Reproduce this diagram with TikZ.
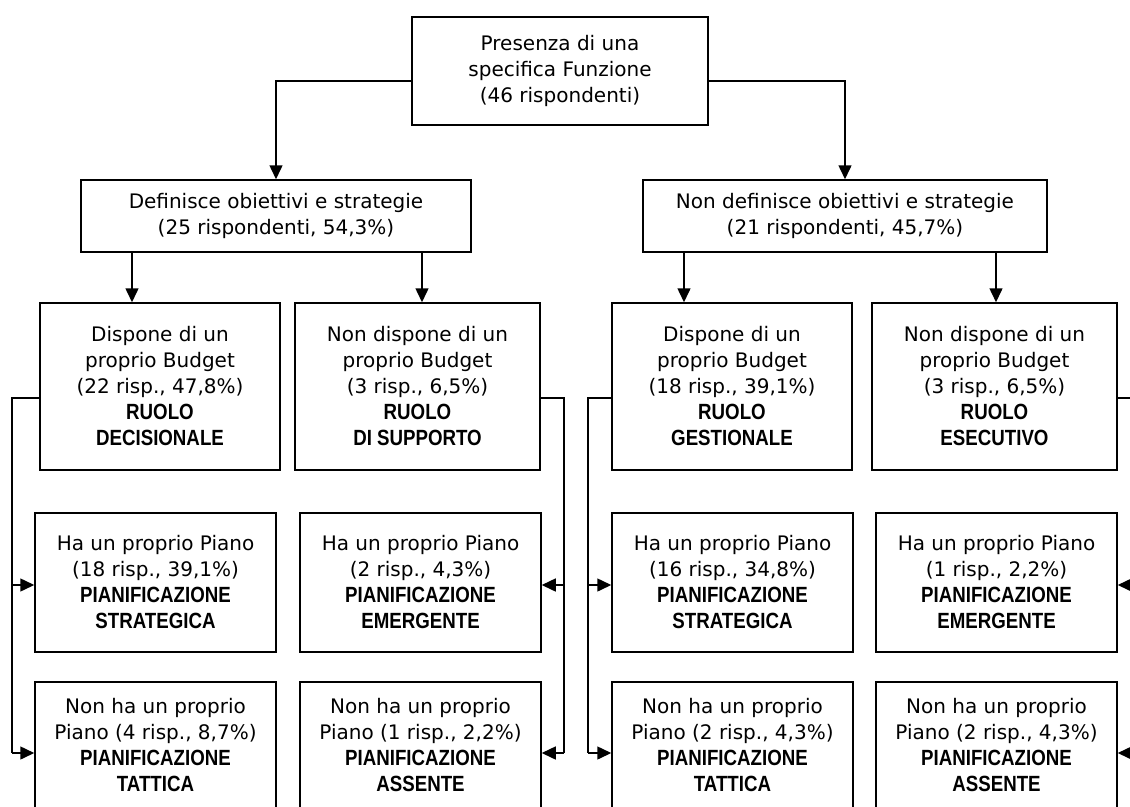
\documentclass[tikz,border=0pt]{standalone}
\usepackage{fontspec}
\setmainfont{DejaVu Sans}
\newfontfamily\capfont[FakeStretch=0.85]{Liberation Sans}
\usetikzlibrary{arrows.meta}
\newcommand{\bc}[1]{{\capfont\bfseries\fontsize{22}{26.5}\selectfont #1}}
\begin{document}
\begin{tikzpicture}[x=1pt,y=-1pt,
  font=\fontsize{20}{26}\selectfont,
  box/.style={draw, line width=1.5pt, align=center, inner sep=0pt},
  lvthree/.style={box, minimum width=#1, minimum height=167pt},
  lvfour/.style={box, minimum width=241pt, minimum height=139pt},
  lvfive/.style={box, minimum width=241pt, minimum height=126pt},
  ln/.style={line width=1.5pt},
  arr/.style={line width=1.5pt, -{Triangle[length=14pt,width=13pt]}}]
\useasboundingbox (0,0) rectangle (1130,806);
\clip (0,0) rectangle (1130,806);

\node[box, minimum width=296pt, minimum height=108pt] (top) at (560,71)
  {Presenza di una\\specifica Funzione\\(46 rispondenti)};
\node[box, minimum width=390pt, minimum height=72pt] (def) at (276,216)
  {Definisce obiettivi e strategie\\(25 rispondenti, 54,3\%)};
\node[box, minimum width=404pt, minimum height=72pt] (nd) at (845,216)
  {Non definisce obiettivi e strategie\\(21 rispondenti, 45,7\%)};

\node[lvthree=240pt] (b1) at (160,386.5)
  {Dispone di un\\proprio Budget\\(22 risp., 47,8\%)\\\bc{RUOLO}\\\bc{DECISIONALE}};
\node[lvthree=245pt] (b2) at (417.5,386.5)
  {Non dispone di un\\proprio Budget\\(3 risp., 6,5\%)\\\bc{RUOLO}\\\bc{DI SUPPORTO}};
\node[lvthree=240pt] (b3) at (732,386.5)
  {Dispone di un\\proprio Budget\\(18 risp., 39,1\%)\\\bc{RUOLO}\\\bc{GESTIONALE}};
\node[lvthree=245pt] (b4) at (994.5,386.5)
  {Non dispone di un\\proprio Budget\\(3 risp., 6,5\%)\\\bc{RUOLO}\\\bc{ESECUTIVO}};

\node[lvfour] (c1) at (155.5,582.5)
  {Ha un proprio Piano\\(18 risp., 39,1\%)\\\bc{PIANIFICAZIONE}\\\bc{STRATEGICA}};
\node[lvfour] (c2) at (420.5,582.5)
  {Ha un proprio Piano\\(2 risp., 4,3\%)\\\bc{PIANIFICAZIONE}\\\bc{EMERGENTE}};
\node[lvfour] (c3) at (732.5,582.5)
  {Ha un proprio Piano\\(16 risp., 34,8\%)\\\bc{PIANIFICAZIONE}\\\bc{STRATEGICA}};
\node[lvfour] (c4) at (996.5,582.5)
  {Ha un proprio Piano\\(1 risp., 2,2\%)\\\bc{PIANIFICAZIONE}\\\bc{EMERGENTE}};

\node[lvfive] (d1) at (155.5,745)
  {Non ha un proprio\\Piano (4 risp., 8,7\%)\\\bc{PIANIFICAZIONE}\\\bc{TATTICA}};
\node[lvfive] (d2) at (420.5,745)
  {Non ha un proprio\\Piano (1 risp., 2,2\%)\\\bc{PIANIFICAZIONE}\\\bc{ASSENTE}};
\node[lvfive] (d3) at (732.5,745)
  {Non ha un proprio\\Piano (2 risp., 4,3\%)\\\bc{PIANIFICAZIONE}\\\bc{TATTICA}};
\node[lvfive] (d4) at (996.5,745)
  {Non ha un proprio\\Piano (2 risp., 4,3\%)\\\bc{PIANIFICAZIONE}\\\bc{ASSENTE}};

% top level connectors
\draw[arr] ([yshift=-10pt]top.west) -| (def.north);
\draw[arr] ([yshift=-10pt]top.east) -| (nd.north);

% second level connectors
\draw[arr] (def.south -| 132,0) -- (b1.north -| 132,0);
\draw[arr] (def.south -| 422,0) -- (b2.north -| 422,0);
\draw[arr] (nd.south -| 684,0) -- (b3.north -| 684,0);
\draw[arr] (nd.south -| 996,0) -- (b4.north -| 996,0);

% side buses
\coordinate (k1) at (12,398);  \coordinate (m1) at (12,585);  \coordinate (n1) at (12,753);
\coordinate (k2) at (564,398); \coordinate (m2) at (564,585); \coordinate (n2) at (564,753);
\coordinate (k3) at (588,398); \coordinate (m3) at (588,585); \coordinate (n3) at (588,753);
\coordinate (k4) at (1134,398); \coordinate (m4) at (1134,585); \coordinate (n4) at (1134,753);

\draw[ln] (b1.west |- k1) -- (k1) -- (n1);
\draw[arr] (m1) -- (c1.west |- m1);
\draw[arr] (n1) -- (d1.west |- n1);

\draw[ln] (b2.east |- k2) -- (k2) -- (n2);
\draw[arr] (m2) -- (c2.east |- m2);
\draw[arr] (n2) -- (d2.east |- n2);

\draw[ln] (b3.west |- k3) -- (k3) -- (n3);
\draw[arr] (m3) -- (c3.west |- m3);
\draw[arr] (n3) -- (d3.west |- n3);

\draw[ln] (b4.east |- k4) -- (k4) -- (n4);
\draw[arr] (m4) -- (c4.east |- m4);
\draw[arr] (n4) -- (d4.east |- n4);
\end{tikzpicture}
\end{document}
